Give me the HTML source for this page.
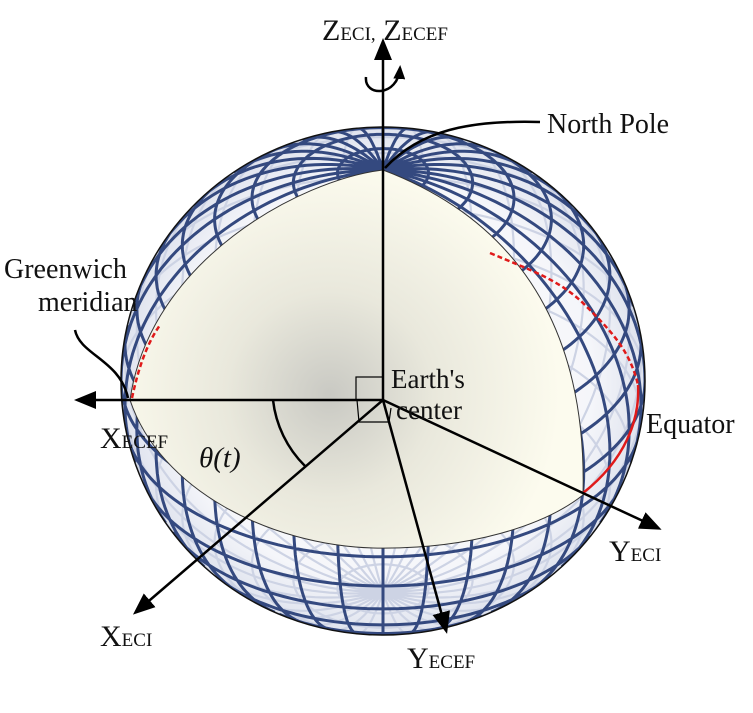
<!DOCTYPE html>
<html><head><meta charset="utf-8"><style>
html,body{margin:0;padding:0;background:#fff;}
svg{display:block;}
text{font-family:"Liberation Serif",serif;fill:#111;}
</style></head><body>
<svg id="s" width="753" height="713" viewBox="0 0 753 713" xmlns="http://www.w3.org/2000/svg">
<defs>
<radialGradient id="sph" cx="0.5" cy="0.5" r="0.5">
<stop offset="0" stop-color="#ffffff"/><stop offset="0.8" stop-color="#f5f6fa"/><stop offset="1" stop-color="#dfe3ee"/>
</radialGradient>
<radialGradient id="cr" cx="330" cy="395" r="230" gradientUnits="userSpaceOnUse">
<stop offset="0" stop-color="#c9c9c3"/><stop offset="0.45" stop-color="#e9e8dc"/><stop offset="1" stop-color="#fcfbee"/>
</radialGradient>
<clipPath id="cp"><ellipse cx="383" cy="381" rx="262" ry="254"/></clipPath>
<marker id="ah" markerWidth="22" markerHeight="18" refX="18" refY="9" orient="auto" markerUnits="userSpaceOnUse" viewBox="0 0 22 18"><path d="M0,0 L22,9 L0,18 Z" fill="#000"/></marker>
<marker id="ah2" markerWidth="14" markerHeight="12" refX="11" refY="6" orient="auto" markerUnits="userSpaceOnUse" viewBox="0 0 14 12"><path d="M0,0 L14,6 L0,12 Z" fill="#000"/></marker>
</defs>
<ellipse cx="383" cy="381" rx="262" ry="254" fill="url(#sph)"/>
<g clip-path="url(#cp)">
<path id="back" fill="none" stroke="#cdd3e4" stroke-width="2.2"/>
<path id="front" fill="none" stroke="#34497f" stroke-width="3"/>
</g>
<ellipse cx="383" cy="381" rx="262" ry="254" fill="none" stroke="#111" stroke-width="1.5"/>
<path d="M383,170 C300,180 150,260 130,400 C160,490 270,545 373,548 C470,550 545,525 583,495 C586,380 555,235 383,170 Z" fill="url(#cr)" stroke="#333" stroke-width="1"/>
<path d="M132,398 C138,370 146,345 160,325" fill="none" stroke="#e01a1a" stroke-width="2.5" stroke-dasharray="5,3"/>
<path d="M490,253 C530,270 560,280 585,305 C610,330 630,350 638,385" fill="none" stroke="#e01a1a" stroke-width="2.5" stroke-dasharray="5,3"/>
<path d="M638,385 C640,420 625,460 583,493" fill="none" stroke="#e01a1a" stroke-width="2.5"/>
<g stroke="#000" stroke-width="2.5" fill="none">
<line x1="383" y1="400" x2="383" y2="42" marker-end="url(#ah)"/>
<line x1="383" y1="400" x2="78" y2="400" marker-end="url(#ah)"/>
<line x1="383" y1="400" x2="136" y2="612" marker-end="url(#ah)"/>
<line x1="383" y1="400" x2="446" y2="630" marker-end="url(#ah)"/>
<line x1="383" y1="400" x2="658" y2="528" marker-end="url(#ah)"/>
<path d="M273,400 A110,110 0 0 0 305,466"/>
<path d="M366,77 C364,97 398,97 400,68" marker-end="url(#ah2)"/>
<path d="M385,168 C420,130 470,120 540,122"/>
<path d="M128,398 C120,360 80,355 75,330"/>
</g>
<g stroke="#000" stroke-width="1.2" fill="none">
<rect x="356" y="377" width="27" height="23"/>
<path d="M357,400 L359,422 L389,422 L391,408"/>
</g>
<text x="322" y="40" font-size="30">Z<tspan font-size="19">ECI,</tspan> Z<tspan font-size="19">ECEF</tspan></text>
<text x="547" y="133" font-size="28">North Pole</text>
<text x="4" y="278" font-size="28">Greenwich</text>
<text x="38" y="311" font-size="28">meridian</text>
<text x="391" y="388" font-size="27">Earth's</text>
<text x="396" y="419" font-size="27">center</text>
<text x="100" y="448" font-size="30">X<tspan font-size="19">ECEF</tspan></text>
<text x="199" y="467" font-size="29" font-style="italic">θ(t)</text>
<text x="646" y="433" font-size="28">Equator</text>
<text x="609" y="561" font-size="30">Y<tspan font-size="19">ECI</tspan></text>
<text x="100" y="646" font-size="30">X<tspan font-size="19">ECI</tspan></text>
<text x="407" y="668" font-size="30">Y<tspan font-size="19">ECEF</tspan></text>
</svg>
<script>
(function(){
var cx=383,cy=381,Rx=262,Ry=254,ct=0.831,st=Math.sqrt(1-ct*ct),d=Math.PI/180;
var fb="",bb="";
function P(la,lo){var X=Math.cos(la)*Math.cos(lo),Y=Math.cos(la)*Math.sin(lo),Z=Math.sin(la);
return [cx+Rx*X, cy-Ry*(Z*ct+Y*st), Z*st-Y*ct];}
function f1(p){return p[0].toFixed(1)+","+p[1].toFixed(1);}
function poly(pts){var cur=null,s;for(var i=0;i<pts.length;i++){var p=pts[i];var f=p[2]>=0;
if(cur!==f){s=" M"+f1(p);if(i>0){s=" M"+f1(pts[i-1])+" L"+f1(p);}cur=f;}
else s=" L"+f1(p);
if(f)fb+=s;else bb+=s;}}
for(var la=-80;la<=80;la+=10){var a=[];for(var lo=0;lo<=360;lo+=2)a.push(P(la*d,lo*d));poly(a);}
for(var lo=0;lo<360;lo+=10){var a=[];for(var la=-90;la<=90;la+=2)a.push(P(la*d,lo*d));poly(a);}
document.getElementById("front").setAttribute("d",fb);
document.getElementById("back").setAttribute("d",bb);
})();
</script>
</body></html>
